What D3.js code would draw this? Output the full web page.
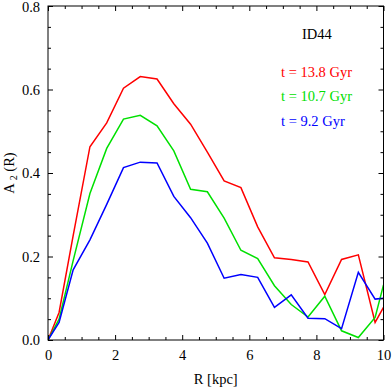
<!DOCTYPE html>
<html>
<head>
<meta charset="utf-8">
<script src="https://cdn.jsdelivr.net/npm/d3@7"></script>
<style>
  body { margin: 0; background: white; }
  svg, svg text { font-family: "Liberation Serif", "DejaVu Serif", serif; }
</style>
</head>
<body>
<svg width="392" height="388"></svg>
<script>
  // Radii sampled in the profile (kpc)
  const radius = [0, 0.33, 0.75, 1.25, 1.75, 2.25, 2.75, 3.25, 3.75, 4.25, 4.75, 5.25, 5.75, 6.25, 6.75, 7.25, 7.75, 8.25, 8.75, 9.25, 9.75, 10];

  // A2 profiles
  const a2_138 = [0, 0.066, 0.25, 0.463, 0.52, 0.603, 0.631, 0.625, 0.566, 0.517, 0.45, 0.381, 0.365, 0.271, 0.197, 0.193, 0.187, 0.109, 0.193, 0.204, 0.042, 0.078];
  const a2_107 = [0, 0.05, 0.19, 0.351, 0.459, 0.529, 0.538, 0.513, 0.453, 0.361, 0.355, 0.292, 0.215, 0.195, 0.13, 0.085, 0.055, 0.105, 0.022, 0.006, 0.054, 0.132];
  const a2_92 = [0, 0.042, 0.168, 0.24, 0.325, 0.413, 0.426, 0.424, 0.344, 0.293, 0.232, 0.148, 0.157, 0.15, 0.078, 0.108, 0.052, 0.051, 0.027, 0.162, 0.098, 0.1];

  const seriesLabels = ["t = 13.8 Gyr", "t = 10.7 Gyr", "t = 9.2 Gyr"];
  const seriesColors = ["#ff0000", "#00e000", "#0000ff"];
  const xTicks = [0, 2, 4, 6, 8, 10];
  const yTicks = [0, 0.2, 0.4, 0.6, 0.8];

  const series = [a2_138, a2_107, a2_92].map((vals, i) => ({
    label: seriesLabels[i],
    color: seriesColors[i],
    points: vals.map((v, j) => [radius[j], v])
  }));

  const mLeft = 48, mRight = 383.5, mTop = 6, mBottom = 340;
  const x = d3.scaleLinear().domain([0, 10]).range([mLeft, mRight]);
  const y = d3.scaleLinear().domain([0, 0.8]).range([mBottom, mTop]);

  const serif = "Liberation Serif, DejaVu Serif, serif";
  const svg = d3.select("svg").attr("font-family", serif);
  const fs = 14.5;

  svg.append("clipPath").attr("id", "clip")
    .append("rect")
      .attr("x", mLeft).attr("y", mTop)
      .attr("width", mRight - mLeft).attr("height", mBottom - mTop);

  // curves
  const line = d3.line().x(d => x(d[0])).y(d => y(d[1]));
  svg.append("g").attr("clip-path", "url(#clip)")
    .selectAll("path")
    .data(series)
    .join("path")
      .attr("fill", "none")
      .attr("stroke", d => d.color)
      .attr("stroke-width", 1.5)
      .attr("d", d => line(d.points));

  // axes, ticks pointing inward on all sides
  const xMinor = d3.range(0, 10.01, 0.5).filter(v => v % 2 !== 0);
  const yMinor = d3.range(0, 0.801, 0.05).map(v => +v.toFixed(2)).filter(v => !yTicks.includes(v));

  svg.append("g").attr("transform", `translate(0,${mBottom})`)
    .call(d3.axisBottom(x).tickValues(xTicks).tickSize(-5).tickPadding(10).tickFormat(d3.format("d")));
  svg.append("g").attr("transform", `translate(0,${mBottom})`)
    .call(d3.axisBottom(x).tickValues(xMinor).tickSize(-3).tickFormat(""));
  svg.append("g").attr("transform", `translate(0,${mTop})`)
    .call(d3.axisTop(x).tickValues(xTicks).tickSize(-5).tickFormat(""));
  svg.append("g").attr("transform", `translate(0,${mTop})`)
    .call(d3.axisTop(x).tickValues(xMinor).tickSize(-3).tickFormat(""));

  svg.append("g").attr("transform", `translate(${mLeft},0)`)
    .call(d3.axisLeft(y).tickValues(yTicks).tickSize(-5).tickPadding(8).tickFormat(d3.format(".1f")));
  svg.append("g").attr("transform", `translate(${mLeft},0)`)
    .call(d3.axisLeft(y).tickValues(yMinor).tickSize(-3).tickFormat(""));
  svg.append("g").attr("transform", `translate(${mRight},0)`)
    .call(d3.axisRight(y).tickValues(yTicks).tickSize(-5).tickFormat(""));
  svg.append("g").attr("transform", `translate(${mRight},0)`)
    .call(d3.axisRight(y).tickValues(yMinor).tickSize(-3).tickFormat(""));

  svg.selectAll(".domain").remove();
  svg.selectAll("g").attr("font-family", serif);
  svg.selectAll(".tick line").attr("stroke", "#000");
  svg.selectAll(".tick text")
    .attr("font-size", fs)
    .attr("fill", "#000");
  // keep the top label inside the window
  svg.selectAll(".tick text").filter(d => d === 0.8).attr("dy", "0.36em");

  // frame
  svg.append("rect")
    .attr("x", mLeft).attr("y", mTop)
    .attr("width", mRight - mLeft).attr("height", mBottom - mTop)
    .attr("fill", "none").attr("stroke", "#000").attr("stroke-width", 1);

  // axis titles
  svg.append("text")
    .attr("x", (mLeft + mRight) / 2).attr("y", 384)
    .attr("text-anchor", "middle")
    .attr("font-size", fs)
    .text("R [kpc]");

  const yl = svg.append("text")
    .attr("transform", `translate(14,${(mTop + mBottom) / 2}) rotate(-90)`)
    .attr("text-anchor", "middle")
    .attr("font-size", fs);
  yl.append("tspan").text("A ");
  yl.append("tspan").attr("font-size", 10).attr("dy", 3).text("2");
  yl.append("tspan").attr("dy", -3).text(" (R)");

  // annotation and legend
  svg.append("text")
    .attr("x", 302).attr("y", 39)
    .attr("font-size", fs)
    .text("ID44");

  svg.append("g")
    .selectAll("text")
    .data(series)
    .join("text")
      .attr("x", 281)
      .attr("y", (d, i) => 76.5 + i * 24.5)
      .attr("font-size", fs)
      .attr("fill", d => d.color)
      .text(d => d.label);
</script>
</body>
</html>
